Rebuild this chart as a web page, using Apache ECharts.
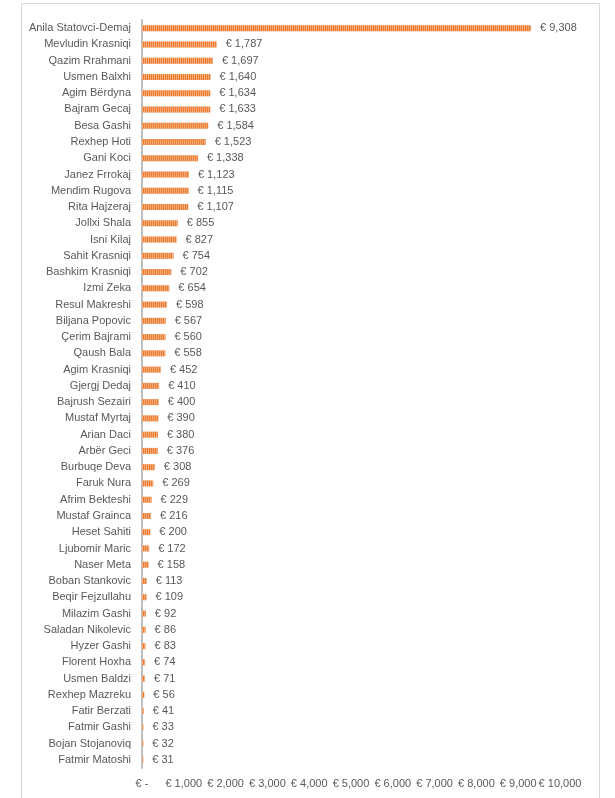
<!DOCTYPE html>
<html>
<head>
<meta charset="utf-8">
<script src="https://cdn.jsdelivr.net/npm/echarts@6/dist/echarts.min.js"></script>
<style>
html,body{margin:0;padding:0;background:#fff;}
#chart{width:615px;height:798px;}
</style>
</head>
<body>
<div id="chart"></div>
<script>
const names = ["Anila Statovci-Demaj","Mevludin Krasniqi","Qazim Rrahmani","Usmen Balxhi","Agim Bërdyna","Bajram Gecaj","Besa Gashi","Rexhep Hoti","Gani Koci","Janez Frrokaj","Mendim Rugova","Rita Hajzeraj","Jollxi Shala","Isni Kilaj","Sahit Krasniqi","Bashkim Krasniqi","Izmi Zeka","Resul Makreshi","Biljana Popovic","Çerim Bajrami","Qaush Bala","Agim Krasniqi","Gjergj Dedaj","Bajrush Sezairi","Mustaf Myrtaj","Arian Daci","Arbër Geci","Burbuqe Deva","Faruk Nura","Afrim Bekteshi","Mustaf Grainca","Heset Sahiti","Ljubomir Maric","Naser Meta","Boban Stankovic","Beqir Fejzullahu","Milazim Gashi","Saladan Nikolevic","Hyzer Gashi","Florent Hoxha","Usmen Baldzi","Rexhep Mazreku","Fatir Berzati","Fatmir Gashi","Bojan Stojanoviq","Fatmir Matoshi"];
const values = [9308,1787,1697,1640,1634,1633,1584,1523,1338,1123,1115,1107,855,827,754,702,654,598,567,560,558,452,410,400,390,380,376,308,269,229,216,200,172,158,113,109,92,86,83,74,71,56,41,33,32,31];
const axisMin = 0, axisMax = 10000, axisStep = 1000;

const fmt = v => v === 0 ? '€ -' : '€ ' + v.toLocaleString('en-US');
const font = '"Liberation Sans", Arial, sans-serif';
const chart = echarts.init(document.getElementById('chart'), null, {renderer:'canvas'});
chart.setOption({
  animation:false,
  graphic:[{type:'rect',shape:{x:21.5,y:3.5,width:578,height:800},style:{fill:'none',stroke:'#d9d9d9',lineWidth:1},silent:true}],
  grid:{left:142,top:20,right:55,bottom:30,containLabel:false},
  xAxis:{type:'value',min:axisMin,max:axisMax,interval:axisStep,
    axisLine:{show:false},axisTick:{show:false},splitLine:{show:false},
    axisLabel:{formatter:fmt,color:'#595959',fontSize:11,fontFamily:font,margin:10}},
  yAxis:{type:'category',inverse:true,data:names,
    axisLine:{show:true,lineStyle:{color:'#bfbfbf',width:2}},axisTick:{show:false},
    axisLabel:{color:'#595959',fontSize:11,fontFamily:font,margin:11}},
  series:[{type:'bar',data:values,barWidth:6,
    itemStyle:{color:'#ED7D31',decal:{symbol:'rect',symbolSize:1,dashArrayX:[1,1],dashArrayY:[20,0],color:'rgba(255,255,255,0.35)'}},
    label:{show:true,position:'right',distance:9,formatter:p=>fmt(p.value),color:'#595959',fontSize:11,fontFamily:font}}]
});
</script>
</body>
</html>
